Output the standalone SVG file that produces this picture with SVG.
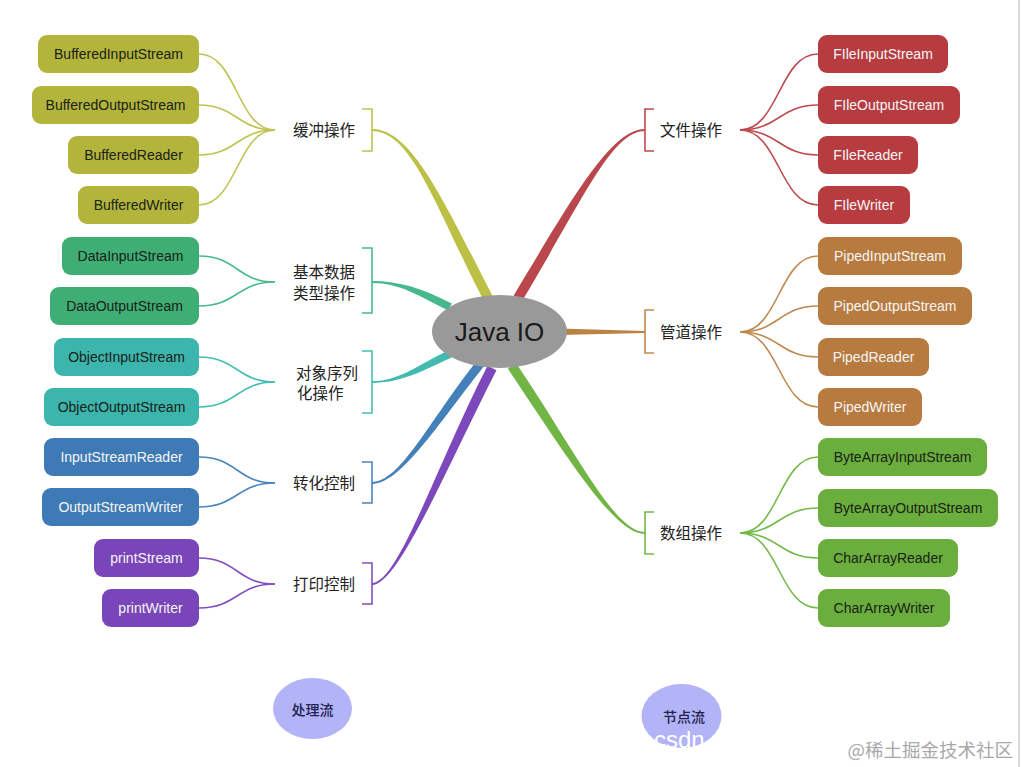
<svg xmlns="http://www.w3.org/2000/svg" width="1021" height="767" viewBox="0 0 1021 767">
<style>
.n text{font-family:"Liberation Sans",Arial,sans-serif;font-size:14px;text-anchor:middle}
.dk{fill:#1a2218}
.lt{fill:#f5f5f5}
.cat{font-family:"Noto Sans CJK SC","Noto Sans",sans-serif;font-size:15.5px;fill:#222}
.fan{fill:none;stroke-width:1.6}
.br{fill:none;stroke-width:1.6}
.ol{fill:#b3b43c}.olL{stroke:#c0c352}
.dg{fill:#3eae74}.dgL{stroke:#48ba8c}
.tl{fill:#3cb5ad}.tlL{stroke:#46bdb2}
.bl{fill:#3e7bb6}.blL{stroke:#4a84bb}
.pu{fill:#7a45b8}.puL{stroke:#8350bf}
.rd{fill:#b63c40}.rdL{stroke:#bd4a4e}
.bn{fill:#b77b3f}.bnL{stroke:#bf8a50}
.gr{fill:#6aae3d}.grL{stroke:#74b94a}
.sub{fill:#b3b3f7}
.subt{font-family:"Noto Sans CJK SC",sans-serif;font-size:14px;fill:#22224e;text-anchor:middle;font-weight:500}
</style>
<rect width="1021" height="767" fill="#ffffff"/>
<line x1="1019" y1="0" x2="1019" y2="767" stroke="#d9d9d9" stroke-width="2"/>

<g id="connectors">
  <!-- main branches -->
  <path style="fill:#bcc044" d="M372,129 C412,129 444.45,202.7 492.45,295.7 L483.55,300.3 C435.55,207.3 412,131 372,131 Z"/>
  <path style="fill:#45b98c" d="M372,281 C400,281 421.79,288.42 451.79,303.42 L448.21,310.58 C418.21,295.58 400,283 372,283 Z"/>
  <path style="fill:#42bab0" d="M372,381 C400,381 418.31,364.38 448.31,350.38 L451.69,357.62 C421.69,371.62 400,383 372,383 Z"/>
  <path style="fill:#4480ba" d="M372,482 C400,482 428.46,422.21 476.46,361.21 L483.54,366.79 C435.54,427.79 400,484 372,484 Z"/>
  <path style="fill:#7d48bc" d="M372,583 C398,583 435.54,467.73 487.54,365.73 L496.46,370.27 C444.46,472.27 398,585 372,585 Z"/>
  <path style="fill:#b9474b" d="M645,131 C612,131 584.29,197.58 522.29,300.58 L513.71,295.42 C575.71,192.42 612,129 645,129 Z"/>
  <path style="fill:#bb8343" d="M645,331 L560,328.5 L560,335 L645,333 Z"/>
  <path style="fill:#71b545" d="M645,534 C615,534 570.85,462.79 507.85,368.79 L516.15,363.21 C579.15,457.21 615,532 645,532 Z"/>

  <!-- brackets -->
  <path class="br olL" d="M362,109 H372 V151 H362"/>
  <path class="br dgL" d="M362,248 H372 V313 H362"/>
  <path class="br tlL" d="M362,351 H372 V413 H362"/>
  <path class="br blL" d="M362,462 H372 V503 H362"/>
  <path class="br puL" d="M362,563 H372 V604 H362"/>
  <path class="br rdL" d="M654,109 H645 V151 H654"/>
  <path class="br bnL" d="M654,310 H645 V353 H654"/>
  <path class="br grL" d="M654,512 H645 V554 H654"/>

  <!-- left fans -->
  <g class="fan olL">
    <path d="M199,54 C237,54 237,130 275,130"/>
    <path d="M199,105 C237,105 237,130 275,130"/>
    <path d="M199,155 C237,155 237,130 275,130"/>
    <path d="M199,205 C237,205 237,130 275,130"/>
  </g>
  <g class="fan dgL">
    <path d="M199,256 C237,256 237,282 275,282"/>
    <path d="M199,306 C237,306 237,282 275,282"/>
  </g>
  <g class="fan tlL">
    <path d="M199,357 C237,357 237,382 275,382"/>
    <path d="M199,407 C237,407 237,382 275,382"/>
  </g>
  <g class="fan blL">
    <path d="M199,457 C237,457 237,483 275,483"/>
    <path d="M199,507 C237,507 237,483 275,483"/>
  </g>
  <g class="fan puL">
    <path d="M199,558 C237,558 237,584 275,584"/>
    <path d="M199,608 C237,608 237,584 275,584"/>
  </g>
  <!-- right fans -->
  <g class="fan rdL">
    <path d="M740,130 C779,130 779,54 818,54"/>
    <path d="M740,130 C779,130 779,105 818,105"/>
    <path d="M740,130 C779,130 779,155 818,155"/>
    <path d="M740,130 C779,130 779,205 818,205"/>
  </g>
  <g class="fan bnL">
    <path d="M740,332 C779,332 779,256 818,256"/>
    <path d="M740,332 C779,332 779,306 818,306"/>
    <path d="M740,332 C779,332 779,357 818,357"/>
    <path d="M740,332 C779,332 779,407 818,407"/>
  </g>
  <g class="fan grL">
    <path d="M740,533 C779,533 779,457 818,457"/>
    <path d="M740,533 C779,533 779,508 818,508"/>
    <path d="M740,533 C779,533 779,558 818,558"/>
    <path d="M740,533 C779,533 779,608 818,608"/>
  </g>
</g>

<g id="center">
  <ellipse cx="499.5" cy="331.5" rx="67.5" ry="36.5" fill="#999999"/>
  <text x="499.5" y="341" text-anchor="middle" font-family="'Liberation Sans',Arial,sans-serif" font-size="26" fill="#1a1a1a">Java IO</text>
</g>

<g id="categories">
  <g id="cat-buffer"><text class="cat" x="293" y="135.5">缓冲操作</text></g>
  <g id="cat-data"><text class="cat" x="293" y="277.5">基本数据</text><text class="cat" x="293" y="298.5">类型操作</text></g>
  <g id="cat-object"><text class="cat" x="296" y="378.5">对象序列</text><text class="cat" x="297" y="398.5">化操作</text></g>
  <g id="cat-convert"><text class="cat" x="293" y="488.5">转化控制</text></g>
  <g id="cat-print"><text class="cat" x="293" y="589.5">打印控制</text></g>
  <g id="cat-file"><text class="cat" x="660" y="135.5">文件操作</text></g>
  <g id="cat-pipe"><text class="cat" x="660" y="337.5">管道操作</text></g>
  <g id="cat-array"><text class="cat" x="660" y="538.5">数组操作</text></g>
</g>

<g id="n-BufferedInputStream" class="n"><rect class="ol" x="38" y="35" width="161" height="38" rx="9"/><text class="dk" x="118.5" y="59">BufferedInputStream</text></g>
<g id="n-BufferedOutputStream" class="n"><rect class="ol" x="32" y="86" width="167" height="38" rx="9"/><text class="dk" x="115.5" y="110">BufferedOutputStream</text></g>
<g id="n-BufferedReader" class="n"><rect class="ol" x="68" y="136" width="131" height="38" rx="9"/><text class="dk" x="133.5" y="160">BufferedReader</text></g>
<g id="n-BufferedWriter" class="n"><rect class="ol" x="78" y="186" width="121" height="38" rx="9"/><text class="dk" x="138.5" y="210">BufferedWriter</text></g>

<g id="n-DataInputStream" class="n"><rect class="dg" x="62" y="237" width="137" height="38" rx="9"/><text class="dk" x="130.5" y="261">DataInputStream</text></g>
<g id="n-DataOutputStream" class="n"><rect class="dg" x="50" y="287" width="149" height="38" rx="9"/><text class="dk" x="124.5" y="311">DataOutputStream</text></g>

<g id="n-ObjectInputStream" class="n"><rect class="tl" x="54" y="338" width="145" height="38" rx="9"/><text class="dk" x="126.5" y="362">ObjectInputStream</text></g>
<g id="n-ObjectOutputStream" class="n"><rect class="tl" x="44" y="388" width="155" height="38" rx="9"/><text class="dk" x="121.5" y="412">ObjectOutputStream</text></g>

<g id="n-InputStreamReader" class="n"><rect class="bl" x="44" y="438" width="155" height="38" rx="9"/><text class="lt" x="121.5" y="462">InputStreamReader</text></g>
<g id="n-OutputStreamWriter" class="n"><rect class="bl" x="42" y="488" width="157" height="38" rx="9"/><text class="lt" x="120.5" y="512">OutputStreamWriter</text></g>

<g id="n-printStream" class="n"><rect class="pu" x="94" y="539" width="105" height="38" rx="9"/><text class="lt" x="146.5" y="563">printStream</text></g>
<g id="n-printWriter" class="n"><rect class="pu" x="102" y="589" width="97" height="38" rx="9"/><text class="lt" x="150.5" y="613">printWriter</text></g>

<g id="n-FIleInputStream" class="n"><rect class="rd" x="818" y="35" width="130" height="38" rx="9"/><text class="lt" x="883" y="59">FIleInputStream</text></g>
<g id="n-FIleOutputStream" class="n"><rect class="rd" x="818" y="86" width="142" height="38" rx="9"/><text class="lt" x="889" y="110">FIleOutputStream</text></g>
<g id="n-FIleReader" class="n"><rect class="rd" x="818" y="136" width="100" height="38" rx="9"/><text class="lt" x="868" y="160">FIleReader</text></g>
<g id="n-FIleWriter" class="n"><rect class="rd" x="818" y="186" width="92" height="38" rx="9"/><text class="lt" x="864" y="210">FIleWriter</text></g>

<g id="n-PipedInputStream" class="n"><rect class="bn" x="818" y="237" width="144" height="38" rx="9"/><text class="lt" x="890" y="261">PipedInputStream</text></g>
<g id="n-PipedOutputStream" class="n"><rect class="bn" x="818" y="287" width="154" height="38" rx="9"/><text class="lt" x="895" y="311">PipedOutputStream</text></g>
<g id="n-PipedReader" class="n"><rect class="bn" x="818" y="338" width="111" height="38" rx="9"/><text class="lt" x="873.5" y="362">PipedReader</text></g>
<g id="n-PipedWriter" class="n"><rect class="bn" x="818" y="388" width="104" height="38" rx="9"/><text class="lt" x="870" y="412">PipedWriter</text></g>

<g id="n-ByteArrayInputStream" class="n"><rect class="gr" x="818" y="438" width="169" height="38" rx="9"/><text class="dk" x="902.5" y="462">ByteArrayInputStream</text></g>
<g id="n-ByteArrayOutputStream" class="n"><rect class="gr" x="818" y="489" width="180" height="38" rx="9"/><text class="dk" x="908" y="513">ByteArrayOutputStream</text></g>
<g id="n-CharArrayReader" class="n"><rect class="gr" x="818" y="539" width="140" height="38" rx="9"/><text class="dk" x="888" y="563">CharArrayReader</text></g>
<g id="n-CharArrayWriter" class="n"><rect class="gr" x="818" y="589" width="132" height="38" rx="9"/><text class="dk" x="884" y="613">CharArrayWriter</text></g>

<g id="n-processing">
  <ellipse class="sub" cx="312.5" cy="708.5" rx="39.5" ry="30.5"/>
  <text class="subt" x="312.5" y="714.5">处理流</text>
</g>
<g id="n-node">
  <ellipse class="sub" cx="681.5" cy="716" rx="40" ry="32"/>
  <text class="subt" x="684" y="722">节点流</text>
</g>

<text x="654" y="748" font-family="'Liberation Sans',Arial,sans-serif" font-size="24" fill="#ffffff">csdn.net</text>
<text x="1013" y="757" text-anchor="end" font-family="'Noto Sans CJK SC',sans-serif" font-size="18.5" fill="#a8a8a8">@稀土掘金技术社区</text>
</svg>
